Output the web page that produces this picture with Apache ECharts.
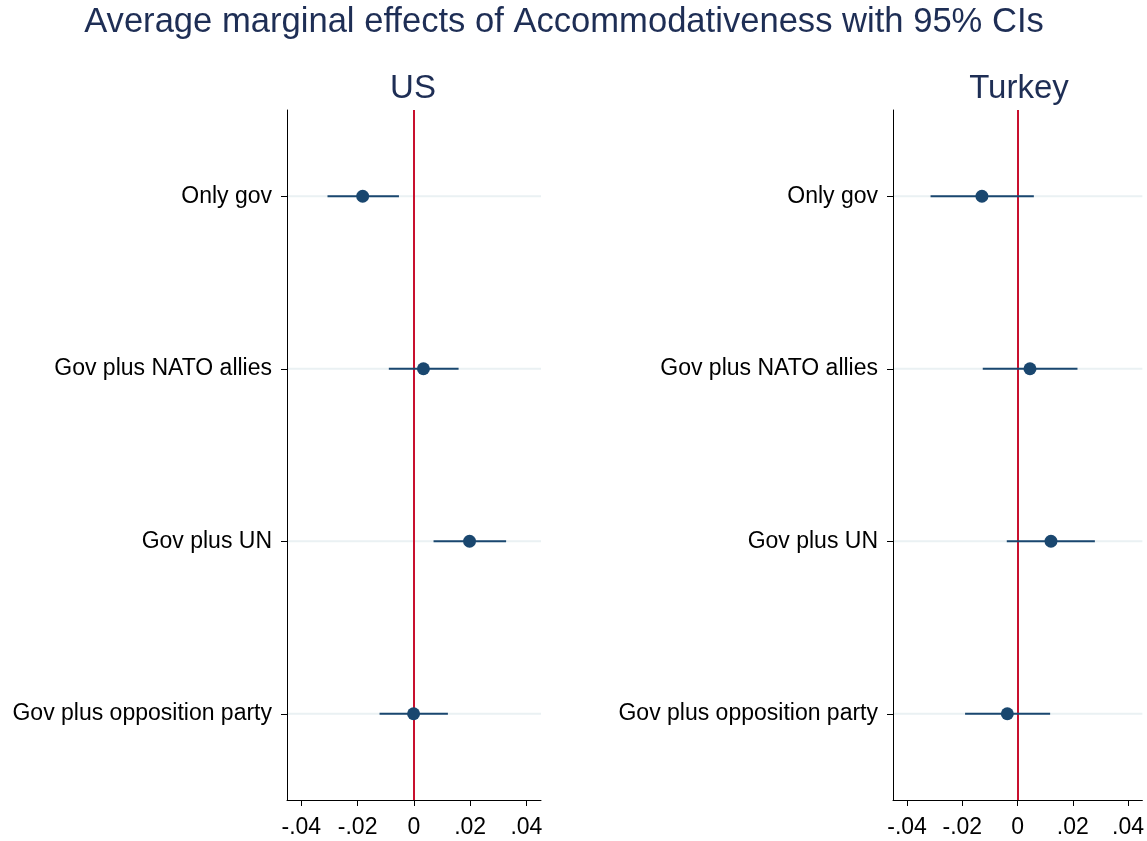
<!DOCTYPE html>
<html>
<head>
<meta charset="utf-8">
<script src="https://cdn.jsdelivr.net/npm/echarts@6/dist/echarts.min.js"></script>
<style>
  html, body { margin: 0; padding: 0; background: #fff; }
  #chart { width: 1147px; height: 841px; }
</style>
</head>
<body>
<div id="chart"></div>
<script>
// categories, top to bottom
const categories = ["Only gov", "Gov plus NATO allies", "Gov plus UN", "Gov plus opposition party"];
const tickValues = [-0.04, -0.02, 0, 0.02, 0.04];

// US panel
const usEst = [-0.0182, 0.0034, 0.0198, -0.0001];
const usLo = [-0.0307, -0.0089, 0.0070, -0.0122];
const usHi = [-0.0053, 0.0159, 0.0328, 0.0121];

// Turkey panel
const trEst = [-0.0129, 0.0045, 0.0121, -0.0037];
const trLo = [-0.0315, -0.0126, -0.0039, -0.0190];
const trHi = [0.0059, 0.0217, 0.0280, 0.0118];

const navy = "#1a476f";
const font = "Arial, 'Liberation Sans', sans-serif";

const chart = echarts.init(document.getElementById("chart"));

const fmt = v => {
  if (Math.abs(v) < 1e-9) return "0";
  const s = v.toFixed(2);
  return s.replace("0.", ".");
};

const makeX = idx => ({
  type: "value",
  gridIndex: idx,
  min: -0.0451,
  max: 0.0452,
  splitLine: { show: false },
  axisLine: { show: true, onZero: false, lineStyle: { color: "#000", width: 1 } },
  axisTick: { show: true, length: 6, customValues: tickValues, lineStyle: { color: "#000" } },
  axisLabel: {
    customValues: tickValues,
    formatter: fmt,
    fontSize: 23,
    fontFamily: font,
    color: "#000",
    margin: 16
  }
});

const makeY = idx => ({
  type: "category",
  gridIndex: idx,
  data: categories,
  inverse: true,
  boundaryGap: true,
  axisLine: { show: true, onZero: false, lineStyle: { color: "#000", width: 1 } },
  axisTick: { show: true, alignWithLabel: true, length: 6, lineStyle: { color: "#000" } },
  axisLabel: { fontSize: 23, fontFamily: font, color: "#000", margin: 15 },
  splitLine: { show: false }
});

// error bars via custom series, coordinates from the axes
const ciSeries = (idx, lo, hi) => ({
  type: "custom",
  xAxisIndex: idx,
  yAxisIndex: idx,
  data: categories.map((c, i) => [lo[i], hi[i], i]),
  renderItem: (params, api) => {
    const a = api.coord([api.value(0), api.value(2)]);
    const b = api.coord([api.value(1), api.value(2)]);
    return {
      type: "line",
      shape: { x1: a[0], y1: a[1], x2: b[0], y2: b[1] },
      style: { stroke: navy, lineWidth: 2 }
    };
  },
  z: 3
});

// light horizontal guide lines at each category
const guideSeries = idx => ({
  type: "custom",
  xAxisIndex: idx,
  yAxisIndex: idx,
  data: categories.map((c, i) => [i]),
  renderItem: (params, api) => {
    const y = api.coord([0, api.value(0)])[1];
    const cs = params.coordSys;
    return {
      type: "line",
      shape: { x1: cs.x + 1, y1: y, x2: cs.x + cs.width, y2: y },
      style: { stroke: "#eaf1f3", lineWidth: 2 }
    };
  },
  silent: true,
  z: 1
});

const pointSeries = (idx, est) => ({
  type: "scatter",
  xAxisIndex: idx,
  yAxisIndex: idx,
  data: est.map((v, i) => [v, i]),
  symbolSize: 13,
  itemStyle: { color: navy, opacity: 1 },
  z: 4,
  markLine: {
    silent: true,
    symbol: "none",
    label: { show: false },
    lineStyle: { color: "#c8102e", width: 2, type: "solid" },
    data: [{ xAxis: 0 }],
    z: 2
  }
});

const option = {
  backgroundColor: "#fff",
  animation: false,
  title: [
    {
      text: "Average marginal effects of Accommodativeness with 95% CIs",
      left: 559, top: 0, textAlign: "center",
      textStyle: { fontSize: 34.6, fontWeight: "normal", color: "#1e2e55", fontFamily: font }
    },
    {
      text: "US", left: 408, top: 67, textAlign: "center",
      textStyle: { fontSize: 33, fontWeight: "normal", color: "#1e2e55", fontFamily: font }
    },
    {
      text: "Turkey", left: 1014, top: 67, textAlign: "center",
      textStyle: { fontSize: 33, fontWeight: "normal", color: "#1e2e55", fontFamily: font }
    }
  ],
  grid: [
    { left: 287, width: 254, top: 110, height: 690 },
    { left: 893, width: 254, top: 110, height: 690 }
  ],
  xAxis: [makeX(0), makeX(1)],
  yAxis: [makeY(0), makeY(1)],
  series: [
    guideSeries(0), ciSeries(0, usLo, usHi), pointSeries(0, usEst),
    guideSeries(1), ciSeries(1, trLo, trHi), pointSeries(1, trEst)
  ]
};

chart.setOption(option);
</script>
</body>
</html>
